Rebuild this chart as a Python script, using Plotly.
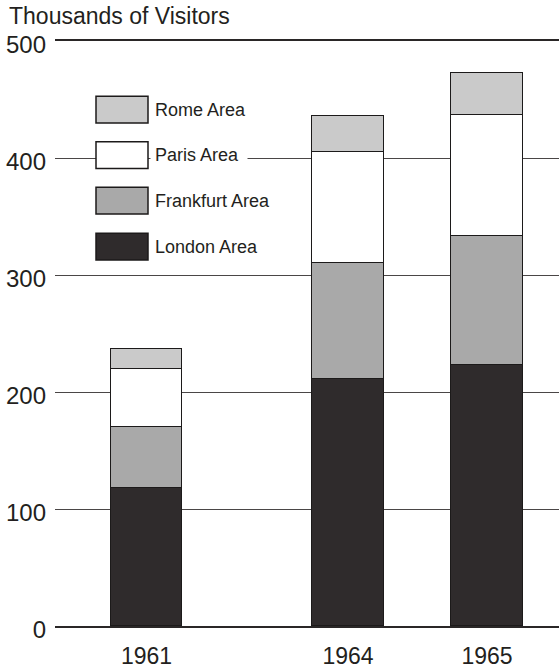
import plotly.graph_objects as go

# ---- data: thousands of visitors by origin area ----
YEARS = ["1961", "1964", "1965"]
LONDON = [118, 211, 223]
FRANKFURT = [52, 99, 110]
PARIS = [50, 95, 104]
ROME = [17, 31, 36]
Y_TICKS = [0, 100, 200, 300, 400, 500]

# ---- layout constants ----
W, H = 559, 669
PL, PR, PT, PB = 55, 559, 41, 633          # plot area in pixels
SLOT_POS = [0.0, 1.0, 1.69]                # horizontal slots for the three years
X_RANGE = [-0.454, 2.047]
BAR_W = 0.355
INK = "#231f20"
COLORS = {
    "London Area": "#2f2b2c",
    "Frankfurt Area": "#a9a9a9",
    "Paris Area": "#ffffff",
    "Rome Area": "#cacaca",
}


def px_x(px):
    return (px - PL) / (PR - PL)


def px_y(py):
    return (PB - py) / (PB - PT)


fig = go.Figure()
for name, vals in [("London Area", LONDON), ("Frankfurt Area", FRANKFURT),
                   ("Paris Area", PARIS), ("Rome Area", ROME)]:
    fig.add_trace(go.Bar(
        x=SLOT_POS, y=vals, width=BAR_W, name=name, showlegend=False,
        marker=dict(color=COLORS[name], line=dict(color="#1c1a1a", width=1.5)),
    ))

# legend block: swatches, and labels on a white backing that breaks the grid line
shapes = []
annotations = []
legend_rows = [("Rome Area", 110.5, None), ("Paris Area", 156.5, 88),
               ("Frankfurt Area", 202.5, None), ("London Area", 249, None)]
for name, cy, box_w in legend_rows:
    shapes.append(dict(type="rect", xref="paper", yref="paper",
                       x0=px_x(96), x1=px_x(148), y0=px_y(cy + 13.5), y1=px_y(cy - 13.5),
                       fillcolor=COLORS[name], line=dict(color="#1c1a1a", width=1.5),
                       layer="above"))
    ann = dict(xref="paper", yref="paper", x=px_x(149.5), y=px_y(cy),
               xanchor="left", yanchor="middle", showarrow=False,
               text=name, align="left", bgcolor="#ffffff", borderpad=4,
               font=dict(family="Liberation Sans", size=18, color=INK))
    if box_w:
        ann["width"] = box_w
    annotations.append(ann)

fig.update_layout(
    width=W, height=H,
    margin=dict(l=PL, r=W - PR, t=PT, b=H - PB),
    paper_bgcolor="white", plot_bgcolor="white",
    barmode="stack", bargap=0,
    title=dict(text="Thousands of Visitors", xref="container", yref="container",
               x=9 / W, y=1 - 16 / H, xanchor="left", yanchor="middle",
               font=dict(family="Liberation Sans", size=23, color=INK)),
    xaxis=dict(range=X_RANGE, tickvals=SLOT_POS, ticktext=YEARS,
               showgrid=False, zeroline=False, showline=True, mirror=True,
               linecolor="#2a2727", linewidth=2, ticks="",
               ticklabelstandoff=8,
               tickfont=dict(family="Liberation Sans", size=23, color=INK)),
    yaxis=dict(range=[0, 500], tickvals=Y_TICKS, showgrid=True,
               gridcolor="#4a4646", gridwidth=1, zeroline=False, showline=False,
               ticks="", ticklabelstandoff=8, ticklabelshift=4,
               tickfont=dict(family="Liberation Sans", size=24, color=INK)),
    shapes=shapes, annotations=annotations,
    showlegend=False,
)

fig.write_html("out.html")
